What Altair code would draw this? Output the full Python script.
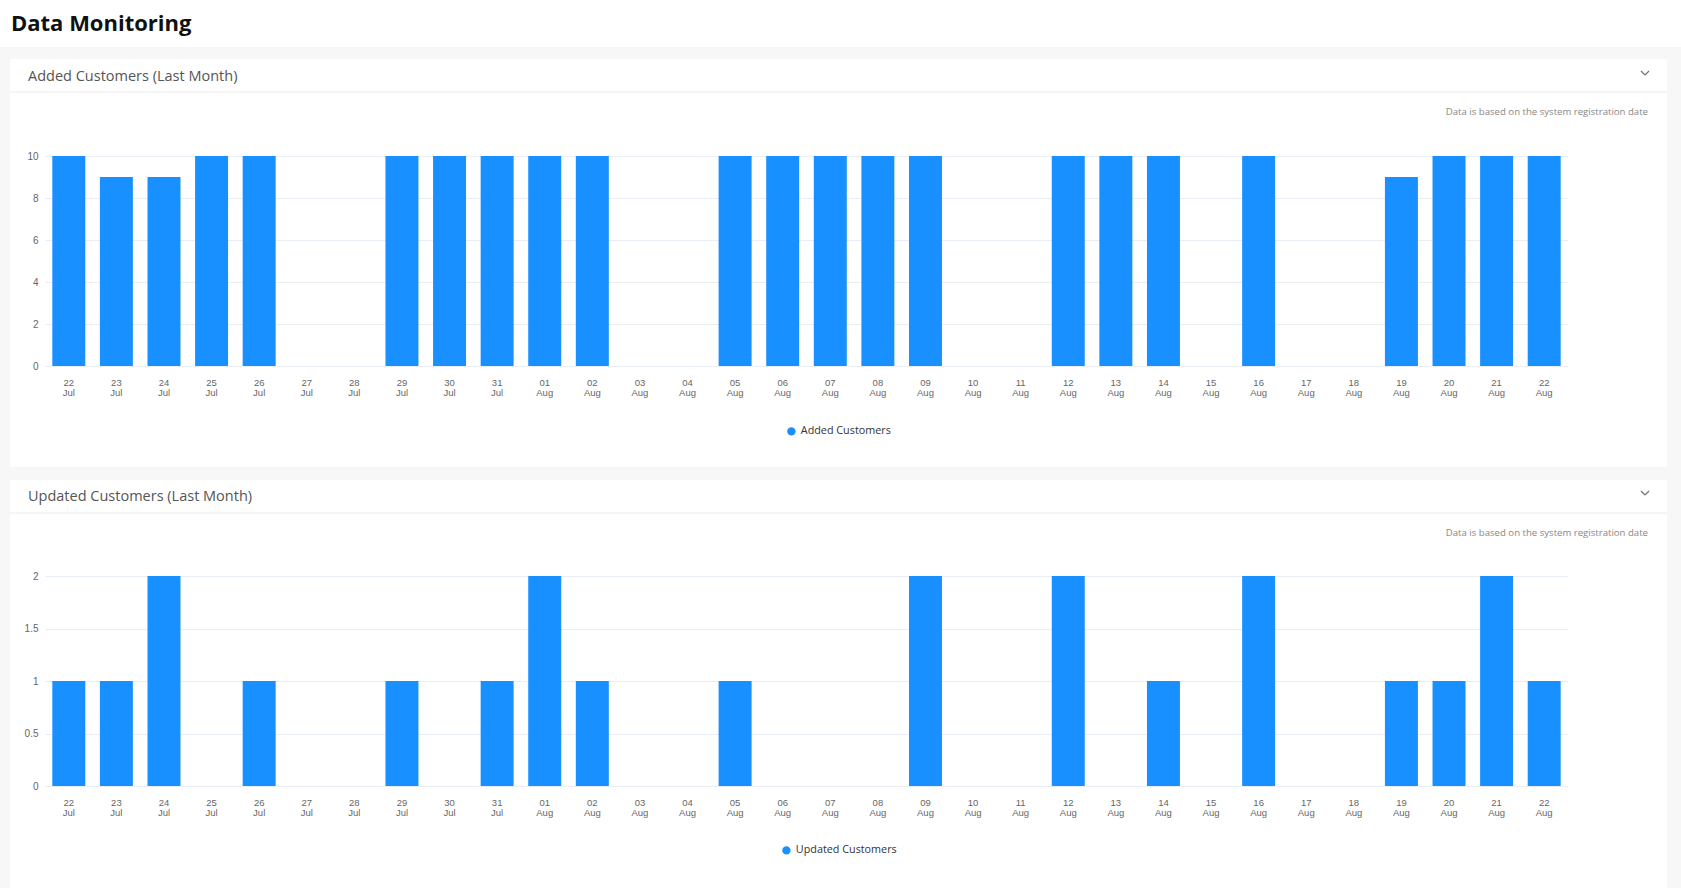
import altair as alt
import pandas as pd

# ---------------- data ----------------
days = ["22 Jul", "23 Jul", "24 Jul", "25 Jul", "26 Jul", "27 Jul", "28 Jul", "29 Jul",
        "30 Jul", "31 Jul", "01 Aug", "02 Aug", "03 Aug", "04 Aug", "05 Aug", "06 Aug",
        "07 Aug", "08 Aug", "09 Aug", "10 Aug", "11 Aug", "12 Aug", "13 Aug", "14 Aug",
        "15 Aug", "16 Aug", "17 Aug", "18 Aug", "19 Aug", "20 Aug", "21 Aug", "22 Aug"]
added = [10, 9, 9, 10, 10, 0, 0, 10, 10, 10, 10, 10, 0, 0, 10, 10,
         10, 10, 10, 0, 0, 10, 10, 10, 0, 10, 0, 0, 9, 10, 10, 10]
updated = [1, 1, 2, 0, 1, 0, 0, 1, 0, 1, 2, 1, 0, 0, 1, 0,
           0, 0, 2, 0, 0, 2, 0, 1, 0, 2, 0, 0, 1, 1, 2, 1]
added_ticks = [0, 2, 4, 6, 8, 10]
updated_ticks = [0, 0.5, 1, 1.5, 2]

# ---------------- styling ----------------
BLUE = "#1890ff"
GRAY_BG = "#f7f7f7"
DIVIDER = "#ececec"
GRID = "#e9eef6"
W, H = 1523, 210
TITLE_FONT = "Open Sans"
AX_FONT = "Liberation Sans"

one = pd.DataFrame({"k": [0]})


def rect(x, x2, y, y2, color):
    return alt.Chart(one).mark_rect(color=color).encode(
        x=alt.value(x), x2=alt.value(x2), y=alt.value(y), y2=alt.value(y2))


def rule(x, x2, y, y2, color, sw=1):
    return alt.Chart(one).mark_rule(color=color, strokeWidth=sw).encode(
        x=alt.value(x), x2=alt.value(x2), y=alt.value(y), y2=alt.value(y2))


def text(x, y, s, size, color, align="left", baseline="middle", weight="normal", font=TITLE_FONT):
    return alt.Chart(one).mark_text(
        align=align, baseline=baseline, fontSize=size, color=color,
        fontWeight=weight, font=font).encode(
        x=alt.value(x), y=alt.value(y), text=alt.value(s))


def bars(values, name, ticks, legend_x, legend_y):
    df = pd.DataFrame({"day": days, "value": values, "series": name})
    return alt.Chart(df).mark_bar(color=BLUE).encode(
        x=alt.X("day:N", sort=days,
                scale=alt.Scale(paddingInner=0.307, paddingOuter=0.1535),
                axis=alt.Axis(title=None, labelAngle=0,
                              labelExpr="split(datum.label, ' ')",
                              ticks=False, domain=False, grid=False,
                              labelPadding=11, labelFontSize=9.5,
                              labelColor="#666666", labelLineHeight=10,
                              labelFont=AX_FONT)),
        y=alt.Y("value:Q", scale=alt.Scale(domain=[0, ticks[-1]], nice=False),
                axis=alt.Axis(title=None, values=ticks, format="~r",
                              ticks=False, domain=False, labelPadding=7,
                              gridColor=GRID, labelFontSize=10,
                              labelColor="#666666", labelFont=AX_FONT)),
        color=alt.Color("series:N", scale=alt.Scale(range=[BLUE]),
                        legend=alt.Legend(title=None, orient="none",
                                          legendX=legend_x, legendY=legend_y,
                                          symbolType="circle", symbolSize=70,
                                          symbolStrokeWidth=0, symbolOpacity=1,
                                          labelFontSize=10.8, labelColor="#333333",
                                          labelFont=TITLE_FONT, padding=0,
                                          labelOffset=4)),
    )


chevron = lambda yb: [rule(1596, 1600, yb, yb + 4, "#777777", 1.2),
                      rule(1600, 1604, yb + 4, yb, "#777777", 1.2)]

# ---------------- chart 1 (plot origin page (45,156)) ----------------
c1 = alt.layer(
    rect(-45, 1636, -156, -109, "#ffffff"),
    rect(-45, 1636, -109, -97, GRAY_BG),
    rect(-45, -35, -109, 324, GRAY_BG),
    rect(1622, 1636, -109, 324, GRAY_BG),
    rect(-45, 1636, 311, 324, GRAY_BG),
    rule(-35, 1622, -64, -64, DIVIDER),
    text(-34, -125, "Data Monitoring", 22, "#111111", baseline="alphabetic", weight="bold"),
    text(-17, -79, "Added Customers (Last Month)", 14.5, "#555555"),
    *chevron(-85),
    text(1603, -44, "Data is based on the system registration date", 9.6, "#888888", align="right"),
    bars(added, "Added Customers", added_ticks, 741, 270),
).properties(width=W, height=H)

# ---------------- chart 2 (plot origin page (45,576)) ----------------
c2 = alt.layer(
    rect(-45, -35, -96, 312, GRAY_BG),
    rect(1622, 1636, -96, 312, GRAY_BG),
    rule(-35, 1622, -63, -63, DIVIDER),
    text(-17, -79, "Updated Customers (Last Month)", 14.5, "#555555"),
    *chevron(-85),
    text(1603, -43, "Data is based on the system registration date", 9.6, "#888888", align="right"),
    bars(updated, "Updated Customers", updated_ticks, 736, 269),
).properties(width=W, height=H)

chart = alt.vconcat(c1, c2, spacing=0).resolve_scale(
    color="independent", x="independent", y="independent"
).resolve_legend(color="independent").properties(
    padding=0, background="#ffffff"
).configure_view(stroke=None)

chart.save("out.html", embed_options={"renderer": "svg", "actions": False})
